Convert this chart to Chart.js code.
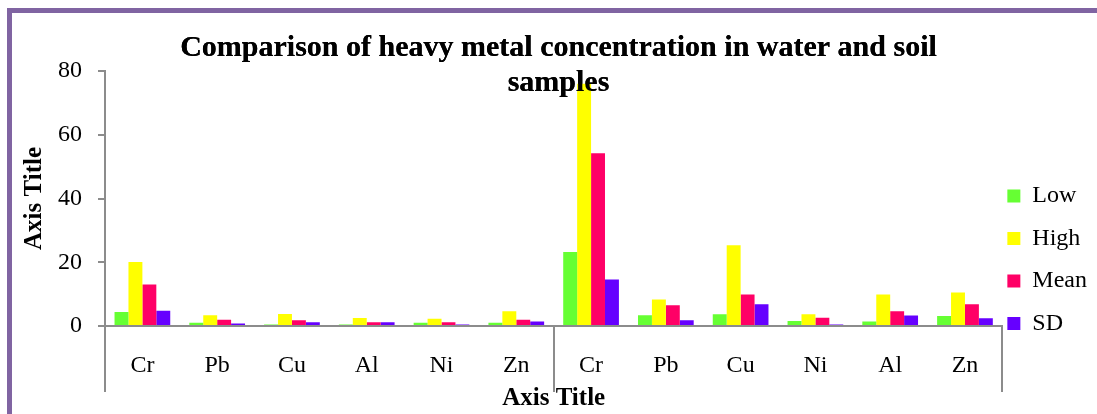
<!DOCTYPE html>
<html>
<head>
<meta charset="utf-8">
<script src="https://cdn.jsdelivr.net/npm/chart.js@4"></script>
<style>
  body { margin: 0; background: #fff; }
  #wrap { position: relative; width: 1097px; height: 414px; overflow: hidden; }
  /* purple chart frame (left and top edges show in the picture) */
  #frame {
    position: absolute; left: 7px; top: 8px; right: -20px; bottom: -20px;
    border-left: 5px solid #8064a2; border-top: 5px solid #8064a2;
  }
  #chart { position: absolute; left: 0; top: 0; }
</style>
</head>
<body>
<div id="wrap">
  <div id="frame"></div>
  <canvas id="chart" width="1097" height="414"></canvas>
</div>
<script>
// Categories: first six = water samples, last six = soil samples
const metals = ['Cr', 'Pb', 'Cu', 'Al', 'Ni', 'Zn', 'Cr', 'Pb', 'Cu', 'Ni', 'Al', 'Zn'];
const seriesNames = ['Low', 'High', 'Mean', 'SD'];
const lowValues  = [4.4, 1.0, 0.5, 0.5, 1.0, 1.0, 23.2, 3.4, 3.7, 1.6, 1.4, 3.1];
const highValues = [20.1, 3.4, 3.8, 2.5, 2.3, 4.6, 76.0, 8.3, 25.3, 3.7, 9.9, 10.5];
const meanValues = [13.0, 2.0, 1.8, 1.2, 1.2, 2.0, 54.2, 6.5, 9.9, 2.6, 4.6, 6.8];
const sdValues   = [4.8, 0.8, 1.2, 1.2, 0.5, 1.4, 14.6, 1.8, 6.8, 0.5, 3.3, 2.4];
const yTicks = [0, 20, 40, 60, 80];

const seriesColors = ['#66ff33', '#ffff00', '#ff0066', '#6600ff'];
const axisGrey = '#8c8c8c';

Chart.defaults.font.family = "'Liberation Serif', 'Times New Roman', serif";
Chart.defaults.color = '#000';

// Redraw the title after the bars so it sits on top of the tall Cr bar
const titleOnTop = {
    id: 'titleOnTop',
    afterDatasetsDraw(chart) {
        if (chart.titleBlock) chart.titleBlock.draw();
    }
};

const allSeries = [lowValues, highValues, meanValues, sdValues];

new Chart(document.getElementById('chart'), {
    type: 'bar',
    data: {
        labels: metals,
        datasets: allSeries.map((vals, i) => ({
            label: seriesNames[i],
            data: vals,
            backgroundColor: seriesColors[i],
            borderWidth: 0,
            categoryPercentage: 0.745,
            barPercentage: 1.0
        }))
    },
    options: {
        responsive: false,
        animation: false,
        layout: { padding: { left: 20, top: 0, right: 0, bottom: 0 } },
        plugins: {
            title: {
                display: true,
                text: ['Comparison of heavy metal concentration in water and soil', 'samples'],
                font: { size: 30, weight: 'bold', lineHeight: 1.167 },
                color: '#000',
                padding: { top: 30.5, bottom: -29.5 }
            },
            legend: {
                position: 'right',
                align: 'start',
                maxWidth: 97,
                // empty title only used as a spacer to push the items down
                title: { display: true, text: '', font: { size: 10, lineHeight: 1 }, padding: { top: 169, bottom: 0 } },
                labels: {
                    boxWidth: 13,
                    boxHeight: 13,
                    padding: 5,
                    font: { size: 24, lineHeight: 1.5625 },
                    generateLabels(chart) {
                        // array text makes the row spacing follow the font lineHeight
                        return Chart.defaults.plugins.legend.labels.generateLabels(chart)
                            .map(item => Object.assign(item, { text: [item.text] }));
                    }
                }
            },
            tooltip: { enabled: false }
        },
        scales: {
            x: {
                grid: {
                    drawOnChartArea: false,
                    tickLength: 66,
                    lineWidth: 2,
                    // only the group separators (edges and middle) are drawn
                    color: c => (c.index === undefined || c.index % 6 === 0) ? axisGrey : 'rgba(0,0,0,0)'
                },
                border: { color: axisGrey, width: 2 },
                ticks: { padding: -41, font: { size: 24 }, color: '#000', autoSkip: false, maxRotation: 0 },
                title: { display: true, text: 'Axis Title', font: { size: 25, weight: 'bold' }, color: '#000', padding: 0 },
                afterFit(scale) { scale.height = 88; }
            },
            y: {
                min: yTicks[0],
                max: yTicks[yTicks.length - 1],
                afterBuildTicks(scale) { scale.ticks = yTicks.map(v => ({ value: v })); },
                grid: { drawOnChartArea: false, tickLength: 7, lineWidth: 2, color: axisGrey },
                border: { color: axisGrey, width: 2 },
                ticks: { padding: 16, font: { size: 24 }, color: '#000' },
                title: { display: true, text: 'Axis Title', font: { size: 25, weight: 'bold' }, color: '#000', padding: 0 },
                afterFit(scale) { scale.width = 85; }
            }
        }
    },
    plugins: [titleOnTop]
});
</script>
</body>
</html>
